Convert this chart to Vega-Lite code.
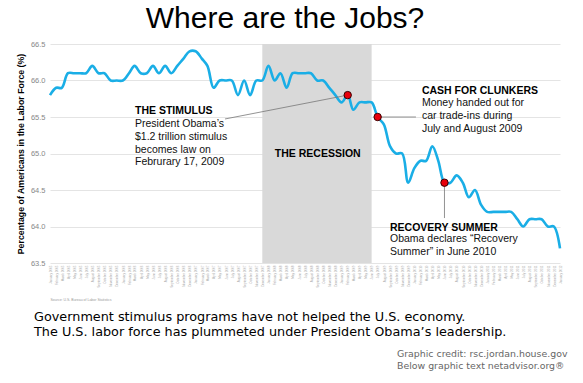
{
  "$schema": "https://vega.github.io/schema/vega-lite/v6.json",
  "width": 510,
  "height": 219,
  "autosize": {"type": "none"},
  "padding": {"left": 50, "top": 44, "right": 23, "bottom": 120},
  "background": "white",
  "config": {"view": {"stroke": null}, "font": "Liberation Sans"},
  "title": {"text": "Where are the Jobs?", "font": "Liberation Sans", "fontSize": 30, "fontWeight": "normal", "color": "#000000", "anchor": "middle", "frame": "group", "dx": -20, "offset": 6},
  "datasets": {
    "lfpr": [
      {"date": "2005-01-01", "value": 65.8}, {"date": "2005-02-01", "value": 65.9}, {"date": "2005-03-01", "value": 65.9}, {"date": "2005-04-01", "value": 66.1}, {"date": "2005-05-01", "value": 66.1}, {"date": "2005-06-01", "value": 66.1}, {"date": "2005-07-01", "value": 66.1}, {"date": "2005-08-01", "value": 66.2}, {"date": "2005-09-01", "value": 66.1}, {"date": "2005-10-01", "value": 66.1}, {"date": "2005-11-01", "value": 66.0}, {"date": "2005-12-01", "value": 66.0},
      {"date": "2006-01-01", "value": 66.0}, {"date": "2006-02-01", "value": 66.1}, {"date": "2006-03-01", "value": 66.2}, {"date": "2006-04-01", "value": 66.1}, {"date": "2006-05-01", "value": 66.1}, {"date": "2006-06-01", "value": 66.2}, {"date": "2006-07-01", "value": 66.1}, {"date": "2006-08-01", "value": 66.2}, {"date": "2006-09-01", "value": 66.1}, {"date": "2006-10-01", "value": 66.2}, {"date": "2006-11-01", "value": 66.3}, {"date": "2006-12-01", "value": 66.4},
      {"date": "2007-01-01", "value": 66.4}, {"date": "2007-02-01", "value": 66.3}, {"date": "2007-03-01", "value": 66.2}, {"date": "2007-04-01", "value": 65.9}, {"date": "2007-05-01", "value": 66.0}, {"date": "2007-06-01", "value": 66.0}, {"date": "2007-07-01", "value": 66.0}, {"date": "2007-08-01", "value": 65.8}, {"date": "2007-09-01", "value": 66.0}, {"date": "2007-10-01", "value": 65.8}, {"date": "2007-11-01", "value": 66.0}, {"date": "2007-12-01", "value": 66.0},
      {"date": "2008-01-01", "value": 66.2}, {"date": "2008-02-01", "value": 66.0}, {"date": "2008-03-01", "value": 66.1}, {"date": "2008-04-01", "value": 65.9}, {"date": "2008-05-01", "value": 66.1}, {"date": "2008-06-01", "value": 66.1}, {"date": "2008-07-01", "value": 66.1}, {"date": "2008-08-01", "value": 66.1}, {"date": "2008-09-01", "value": 66.0}, {"date": "2008-10-01", "value": 66.0}, {"date": "2008-11-01", "value": 65.9}, {"date": "2008-12-01", "value": 65.8},
      {"date": "2009-01-01", "value": 65.7}, {"date": "2009-02-01", "value": 65.8}, {"date": "2009-03-01", "value": 65.6}, {"date": "2009-04-01", "value": 65.7}, {"date": "2009-05-01", "value": 65.7}, {"date": "2009-06-01", "value": 65.7}, {"date": "2009-07-01", "value": 65.5}, {"date": "2009-08-01", "value": 65.4}, {"date": "2009-09-01", "value": 65.1}, {"date": "2009-10-01", "value": 65.0}, {"date": "2009-11-01", "value": 65.0}, {"date": "2009-12-01", "value": 64.6},
      {"date": "2010-01-01", "value": 64.8}, {"date": "2010-02-01", "value": 64.9}, {"date": "2010-03-01", "value": 64.9}, {"date": "2010-04-01", "value": 65.1}, {"date": "2010-05-01", "value": 64.9}, {"date": "2010-06-01", "value": 64.6}, {"date": "2010-07-01", "value": 64.6}, {"date": "2010-08-01", "value": 64.7}, {"date": "2010-09-01", "value": 64.6}, {"date": "2010-10-01", "value": 64.4}, {"date": "2010-11-01", "value": 64.5}, {"date": "2010-12-01", "value": 64.3},
      {"date": "2011-01-01", "value": 64.2}, {"date": "2011-02-01", "value": 64.2}, {"date": "2011-03-01", "value": 64.2}, {"date": "2011-04-01", "value": 64.2}, {"date": "2011-05-01", "value": 64.2}, {"date": "2011-06-01", "value": 64.1}, {"date": "2011-07-01", "value": 64.0}, {"date": "2011-08-01", "value": 64.1}, {"date": "2011-09-01", "value": 64.1}, {"date": "2011-10-01", "value": 64.1}, {"date": "2011-11-01", "value": 64.0}, {"date": "2011-12-01", "value": 64.0},
      {"date": "2012-01-01", "value": 63.7}
    ],
    "recession": [{"date": "2007-12-01", "date2": "2009-06-01"}],
    "events": [
      {"date": "2009-02-01", "value": 65.8, "event": "Stimulus"},
      {"date": "2009-07-01", "value": 65.5, "event": "Cash for Clunkers"},
      {"date": "2010-06-01", "value": 64.6, "event": "Recovery Summer"}
    ],
    "leaders": [
      {"date": "2007-05-28", "value": 65.473, "date2": "2009-02-01", "value2": 65.8},
      {"date": "2009-07-01", "value": 65.5, "date2": "2010-01-09", "value2": 65.5},
      {"date": "2010-06-01", "value": 64.6, "date2": "2010-06-01", "value2": 64.116}
    ],
    "notes": [
      {"date": "2006-03-03", "value": 65.541, "role": "head", "text": "THE STIMULUS"},
      {"date": "2006-03-03", "value": 65.363, "role": "body", "text": "President Obama’s\n$1.2 trillion stimulus\nbecomes law on\nFebrurary 17, 2009"},
      {"date": "2010-02-08", "value": 65.815, "role": "head", "text": "CASH FOR CLUNKERS"},
      {"date": "2010-02-08", "value": 65.644, "role": "body", "text": "Money handed out for\ncar trade-ins during\nJuly and August 2009"},
      {"date": "2008-02-02", "value": 64.948, "role": "head", "text": "THE RECESSION"},
      {"date": "2009-09-01", "value": 63.942, "role": "head", "text": "RECOVERY SUMMER"},
      {"date": "2009-09-01", "value": 63.781, "role": "body", "text": "Obama declares “Recovery\nSummer” in June 2010"},
      {"date": "2004-10-13", "value": 62.705, "role": "caption", "text": "Government stimulus programs have not helped the U.S. economy.\nThe U.S. labor force has plummeted under President Obama’s leadership."},
      {"date": "2009-10-06", "value": 62.216, "role": "credit", "text": "Graphic credit: rsc.jordan.house.gov\nBelow graphic text netadvisor.org®"}
    ]
  },
  "layer": [
    {
      "data": {"name": "recession"},
      "mark": {"type": "rect", "color": "#d9d9d9"},
      "encoding": {
        "x": {"field": "date", "type": "temporal",
          "scale": {"type": "utc", "domain": [{"year": 2005, "month": 1, "date": 1, "utc": true}, {"year": 2012, "month": 1, "date": 1, "utc": true}]},
          "axis": {"tickCount": {"interval": "month", "step": 1}, "format": "%B %Y", "labelAngle": -90, "labelFontSize": 3, "labelColor": "#a8a8a8", "labelOverlap": false, "labelFlush": false, "labelPadding": 2, "ticks": false, "domain": false, "grid": false,
            "title": "Source: U.S. Bureau of Labor Statistics", "titleFontSize": 3.5, "titleFontWeight": "normal", "titleColor": "#999999", "titleAnchor": "start", "titleAlign": "left", "titlePadding": 10}},
        "x2": {"field": "date2"}
      }
    },
    {
      "data": {"name": "lfpr"},
      "mark": {"type": "line", "interpolate": "catmull-rom", "color": "#1aaee6", "strokeWidth": 2.6},
      "encoding": {
        "x": {"field": "date", "type": "temporal"},
        "y": {"field": "value", "type": "quantitative",
          "scale": {"domain": [63.5, 66.5], "zero": false, "nice": false},
          "axis": {"tickCount": 6, "format": ".1f", "labelOverlap": false, "labelFontSize": 7.5, "labelColor": "#888888", "labelPadding": 5, "ticks": false, "domain": false, "grid": true, "gridColor": "#e4e4e4", "gridWidth": 1,
            "title": "Percentage of Americans in the Labor Force (%)", "titleFontSize": 8.8, "titleFontWeight": "bold", "titleColor": "#000000", "titlePadding": 5}}
      }
    },
    {
      "data": {"name": "leaders"},
      "mark": {"type": "rule", "color": "#777777", "strokeWidth": 0.8},
      "encoding": {
        "x": {"field": "date", "type": "temporal"},
        "x2": {"field": "date2"},
        "y": {"field": "value", "type": "quantitative"},
        "y2": {"field": "value2"}
      }
    },
    {
      "data": {"name": "events"},
      "mark": {"type": "point", "filled": true, "color": "#e8000b", "stroke": "#3a0000", "strokeWidth": 1, "size": 55, "opacity": 1},
      "encoding": {
        "x": {"field": "date", "type": "temporal"},
        "y": {"field": "value", "type": "quantitative"}
      }
    },
    {
      "data": {"name": "notes"},
      "transform": [{"filter": "datum.role === 'head'"}],
      "mark": {"type": "text", "align": "left", "baseline": "alphabetic", "font": "Liberation Sans", "fontSize": 10.5, "fontWeight": "bold", "color": "#000000"},
      "encoding": {
        "x": {"field": "date", "type": "temporal"},
        "y": {"field": "value", "type": "quantitative"},
        "text": {"field": "text"}
      }
    },
    {
      "data": {"name": "notes"},
      "transform": [{"filter": "datum.role === 'body'"}],
      "mark": {"type": "text", "align": "left", "baseline": "alphabetic", "font": "Liberation Sans", "fontSize": 10.5, "lineBreak": "\n", "lineHeight": 12.8, "color": "#111111"},
      "encoding": {
        "x": {"field": "date", "type": "temporal"},
        "y": {"field": "value", "type": "quantitative"},
        "text": {"field": "text"}
      }
    },
    {
      "data": {"name": "notes"},
      "transform": [{"filter": "datum.role === 'caption'"}],
      "mark": {"type": "text", "align": "left", "baseline": "alphabetic", "font": "DejaVu Sans", "fontSize": 12.8, "lineBreak": "\n", "lineHeight": 15, "color": "#000000"},
      "encoding": {
        "x": {"field": "date", "type": "temporal"},
        "y": {"field": "value", "type": "quantitative"},
        "text": {"field": "text"}
      }
    },
    {
      "data": {"name": "notes"},
      "transform": [{"filter": "datum.role === 'credit'"}],
      "mark": {"type": "text", "align": "left", "baseline": "alphabetic", "font": "DejaVu Sans", "fontSize": 9.4, "lineBreak": "\n", "lineHeight": 12, "color": "#666666"},
      "encoding": {
        "x": {"field": "date", "type": "temporal"},
        "y": {"field": "value", "type": "quantitative"},
        "text": {"field": "text"}
      }
    }
  ]
}
